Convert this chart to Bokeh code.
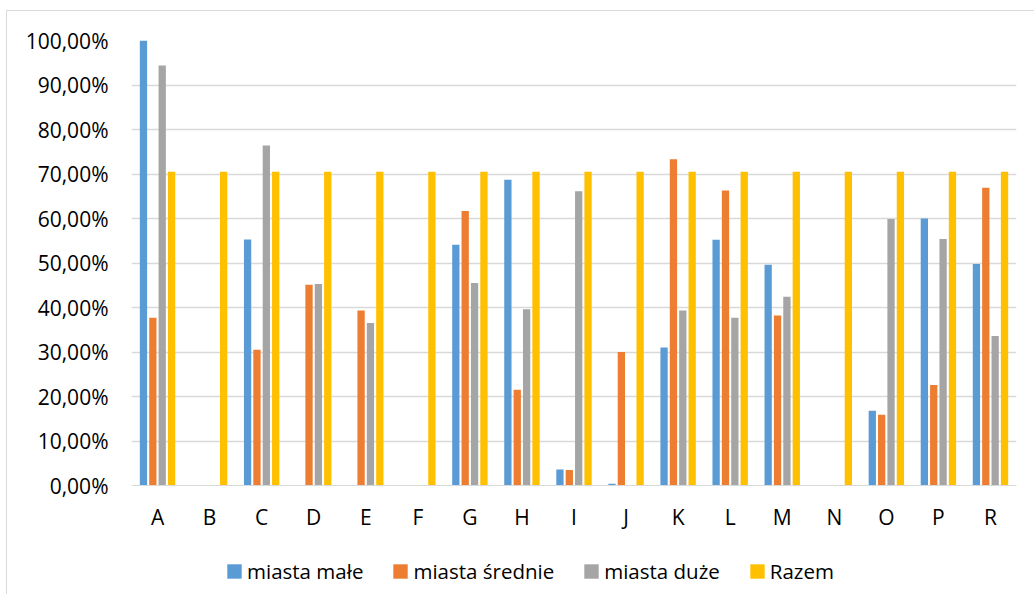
from bokeh.plotting import figure
from bokeh.layouts import column
from bokeh.models import (FactorRange, Range1d, FixedTicker, Legend, LegendItem,
                          ColumnDataSource)
from bokeh.transform import dodge
from bokeh.embed import file_html
from bokeh.resources import INLINE

categories = ["A", "B", "C", "D", "E", "F", "G", "H", "I", "J", "K", "L", "M", "N", "O", "P", "R"]
miasta_male = [100.0, 0, 55.3, 0, 0, 0, 54.1, 68.7, 3.6, 0.4, 31.0, 55.2, 49.6, 0, 16.8, 60.0, 49.8]
miasta_srednie = [37.7, 0, 30.5, 45.1, 39.3, 0, 61.7, 21.5, 3.5, 30.0, 73.3, 66.3, 38.2, 0, 15.9, 22.6, 66.9]
miasta_duze = [94.4, 0, 76.4, 45.3, 36.5, 0, 45.5, 39.6, 66.1, 0, 39.3, 37.7, 42.4, 0, 59.9, 55.4, 33.6]
razem = [70.5, 70.5, 70.5, 70.5, 70.5, 70.5, 70.5, 70.5, 70.5, 70.5, 70.5, 70.5, 70.5, 70.5, 70.5, 70.5, 70.5]

series_names = ["miasta małe", "miasta średnie", "miasta duże", "Razem"]
series_colors = ["#5B9BD5", "#ED7D31", "#A5A5A5", "#FFC000"]
y_ticks = [0, 10, 20, 30, 40, 50, 60, 70, 80, 90, 100]
y_tick_labels = ["0,00%", "10,00%", "20,00%", "30,00%", "40,00%", "50,00%",
                 "60,00%", "70,00%", "80,00%", "90,00%", "100,00%"]

source = ColumnDataSource(dict(cat=categories, s0=miasta_male, s1=miasta_srednie,
                               s2=miasta_duze, s3=razem))

FONT = "Open Sans"
TXT = "#000000"
GRID = "#D9D9D9"
BORDER = "1px solid #D9D9D9"

p = figure(x_range=FactorRange(*categories), y_range=Range1d(0, 100),
           width=1028, height=524,
           min_border_left=124, min_border_right=19, min_border_top=29, min_border_bottom=50,
           output_backend="svg", toolbar_location=None, background_fill_color="white",
           border_fill_color="white")
p.outline_line_color = None
p.margin = (10, 0, 0, 6)
p.styles = {"border-left": BORDER, "border-top": BORDER}

offsets = [-0.27, -0.09, 0.09, 0.27]
for i, col in enumerate(series_colors):
    p.vbar(x=dodge("cat", offsets[i], range=p.x_range), top="s%d" % i, width=0.14,
           source=source, fill_color=col, line_color=None)

# axes
p.yaxis.ticker = FixedTicker(ticks=y_ticks)
p.yaxis.major_label_overrides = {t: l for t, l in zip(y_ticks, y_tick_labels)}
p.yaxis.axis_line_color = None
p.yaxis.major_tick_line_color = None
p.yaxis.minor_tick_line_color = None
p.yaxis.major_tick_out = 0
p.yaxis.major_label_standoff = 23
p.yaxis.major_label_text_font = FONT
p.yaxis.major_label_text_font_size = "21px"
p.yaxis.major_label_text_color = TXT

p.xaxis.axis_line_color = GRID
p.xaxis.axis_line_width = 1
p.xaxis.major_tick_line_color = None
p.xaxis.minor_tick_line_color = None
p.xaxis.major_tick_out = 0
p.xaxis.major_label_standoff = 17
p.xaxis.major_label_text_font = FONT
p.xaxis.major_label_text_font_size = "21px"
p.xaxis.major_label_text_color = TXT

p.xgrid.grid_line_color = None
p.ygrid.ticker = FixedTicker(ticks=y_ticks)
p.ygrid.grid_line_color = GRID
p.ygrid.grid_line_width = 1.3

# legend strip below the chart (same data source, bars kept outside its view)
lg = figure(width=1028, height=60, x_range=FactorRange(*categories), y_range=Range1d(1000, 1001),
            min_border=0, x_axis_location=None, y_axis_location=None,
            output_backend="svg", toolbar_location=None,
            background_fill_color="white", border_fill_color="white")
lg.outline_line_color = None
lg.grid.visible = False
lg.margin = (0, 0, 0, 6)
lg.styles = {"border-left": BORDER}
items = []
for i, (name, col) in enumerate(zip(series_names, series_colors)):
    r = lg.vbar(x="cat", top="s%d" % i, width=0.14, source=source,
                fill_color=col, line_color=None)
    items.append(LegendItem(label=name, renderers=[r]))

legend = Legend(items=items, orientation="horizontal", location=(94, 9),
                glyph_width=18, glyph_height=18, label_standoff=4, spacing=28,
                padding=0, margin=0, border_line_color=None, background_fill_alpha=0,
                label_text_font=FONT, label_text_font_size="20.5px", label_text_color=TXT)
lg.add_layout(legend, "center")

layout = column(p, lg, spacing=0)
open("out.html", "w").write(file_html(layout, INLINE))
